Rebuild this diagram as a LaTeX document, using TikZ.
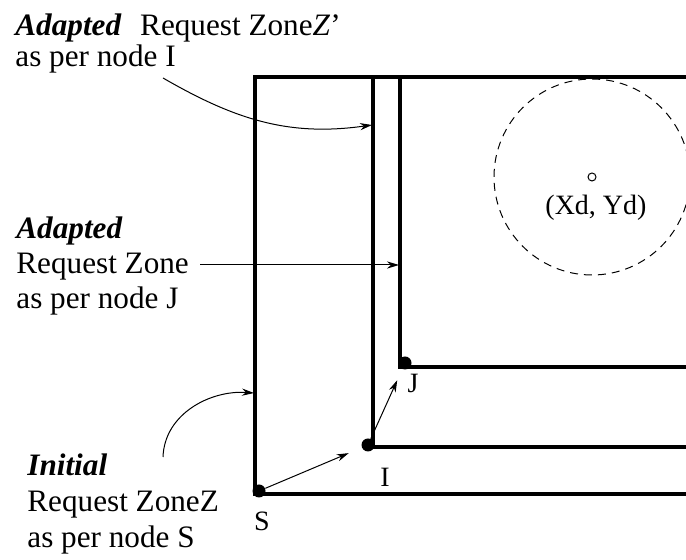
\documentclass[tikz,border=0pt]{standalone}
\usepackage{fontspec}
\setmainfont{Liberation Serif}
\usetikzlibrary{arrows.meta,positioning}
\tikzset{
  zoneline/.style={line width=1.6pt, line join=miter},
  pointer/.style={-{Stealth[length=6pt,width=3.6pt]}, line width=0.5pt},
  corner/.style={circle, fill=black, inner sep=0pt, minimum size=6.5pt},
  cornerlbl/.style={font=\fontsize{14}{16}\selectfont, inner sep=0pt},
  zonetext/.style={font=\fontsize{15.6}{#1}\selectfont, align=left,
                   inner sep=0pt, anchor=base west},
  destzone/.style={dashed, dash pattern=on 4pt off 3pt, line width=0.5pt},
}
\newcommand{\bfit}[1]{\textbf{\textit{#1}}}

\begin{document}
\begin{tikzpicture}[x=0.5pt,y=-0.5pt]
  \useasboundingbox (0,0) rectangle (686,560);

  % request zones, each open to the right
  \draw[zoneline] (686,494) -- (255,494) -- (255,77) -- (686,77);
  \draw[zoneline] (373,77) -- (373,447) -- (686,447);
  \draw[zoneline] (400,77) -- (400,367) -- (686,367);

  % destination and its expected zone
  \draw[destzone] (592,177) circle (98);
  \node[circle, draw, line width=0.5pt, inner sep=0pt, minimum size=4pt] (dest) at (592,177) {};
  \node[cornerlbl] (destlbl) at (596,208) {(Xd, Yd)};

  % nodes S, I, J
  \node[corner] (nodeS) at (259,491) {};
  \node[corner] (nodeI) at (368,445) {};
  \node[corner] (nodeJ) at (405,363) {};
  \node[cornerlbl] (lblS) at (262,521) {S};
  \node[cornerlbl] (lblI) at (385,477) {I};
  \node[cornerlbl] (lblJ) at (413,383) {J};
  \draw[pointer, shorten >=7pt] (nodeS) -- (nodeI);
  \draw[pointer, shorten >=6pt] (nodeI) -- (nodeJ);

  % captions (anchored on their last line)
  \node[zonetext=15.5] (txtZp) at (15,67)
    {\bfit{Adapted}\hskip0.6em Request Zone\textit{Z}'\\as per node I};
  \node[zonetext=17.5] (txtJ) at (16,309)
    {\bfit{Adapted}\\Request Zone\\as per node J};
  \node[zonetext=18] (txtZ) at (27,548)
    {\bfit{Initial}\\Request ZoneZ\\as per node S};

  \coordinate (tailZp) at (163,78);
  \coordinate (tipZp) at (372,125);
  \coordinate (tailJ) at (200,265);
  \coordinate (tipJ) at (399,265);
  \coordinate (tailZ) at (163,457);
  \coordinate (tipZ) at (254,393);
  \draw[pointer] (tailZp) to[out=-30,in=188] (tipZp);
  \draw[pointer] (tailJ) -- (tipJ);
  \draw[pointer] (tailZ) to[out=88,in=176] (tipZ);
\end{tikzpicture}
\end{document}
